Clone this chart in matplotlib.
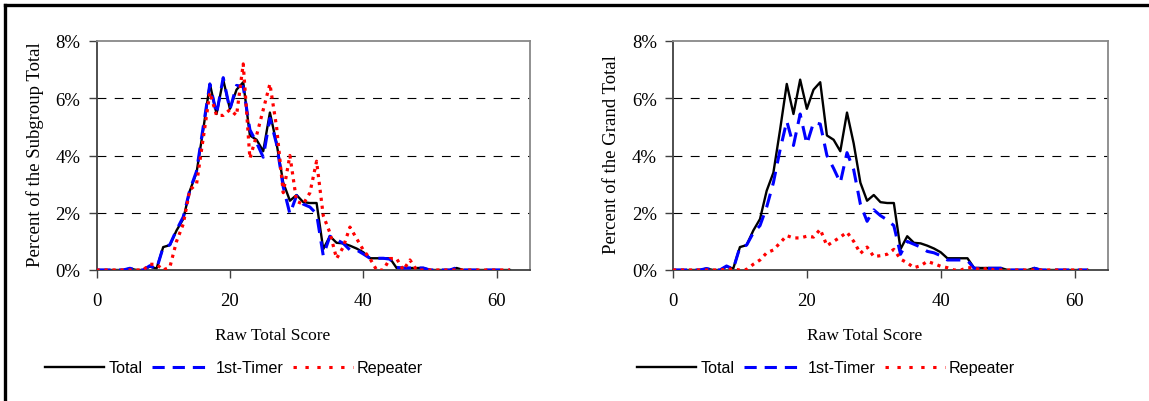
import matplotlib
matplotlib.use("Agg")
import matplotlib.pyplot as plt
from matplotlib.lines import Line2D
from matplotlib.ticker import FuncFormatter
import numpy as np

# Raw total score 0..62
scores = np.arange(63)

# Percent of all examinees at each raw score
total = (
    [0, 0, 0, 0, 0, 0.05, 0, 0, 0.12, 0.05]
    + [0.8, 0.87, 1.38, 1.78, 2.77, 3.4, 4.9, 6.5, 5.45, 6.65]
    + [5.63, 6.3, 6.56, 4.7, 4.55, 4.15, 5.5, 4.42, 3.05, 2.42]
    + [2.62, 2.37, 2.34, 2.34, 0.73, 1.18, 0.95, 0.93, 0.85, 0.75]
    + [0.62, 0.41, 0.41, 0.41, 0.41, 0.07, 0.07, 0.07, 0.07, 0.07]
    + [0, 0, 0, 0, 0.07, 0, 0, 0, 0, 0]
    + [0, 0, 0]
)

# Percent of each subgroup's own total
first_sub = (
    [0, 0, 0, 0, 0, 0.06, 0, 0, 0.15, 0.03]
    + [0.8, 0.88, 1.4, 1.85, 2.8, 3.45, 5.0, 6.5, 5.45, 6.72]
    + [5.6, 6.45, 6.4, 4.9, 4.45, 3.94, 5.3, 4.4, 2.9, 1.96]
    + [2.6, 2.3, 2.2, 1.96, 0.5, 1.18, 1.06, 0.93, 0.7, 0.7]
    + [0.56, 0.41, 0.41, 0.41, 0.38, 0.09, 0.07, 0.07, 0.07, 0.07]
    + [0, 0, 0, 0, 0.08, 0, 0, 0, 0, 0]
    + [0, 0, 0]
)
repeat_sub = (
    [0, 0, 0, 0, 0, 0, 0, 0, 0.2, 0.2]
    + [0, 0.1, 1.0, 1.6, 2.8, 3.0, 4.6, 6.2, 5.4, 5.4]
    + [5.6, 5.4, 7.2, 3.9, 4.7, 5.6, 6.5, 5.0, 2.7, 4.0]
    + [2.4, 2.3, 2.7, 3.8, 1.9, 1.3, 0.4, 0.8, 1.5, 1.1]
    + [0.7, 0.4, 0, 0, 0.4, 0.4, 0, 0.35, 0, 0]
    + [0, 0, 0, 0, 0, 0, 0, 0, 0, 0]
    + [0, 0, 0]
)

# Percent of the grand total
first_grand = (
    [0, 0, 0, 0, 0, 0.05, 0, 0, 0.14, 0.03]
    + [0.8, 0.87, 1.3, 1.55, 2.2, 3.05, 4.2, 5.2, 4.35, 5.45]
    + [4.4, 5.15, 5.1, 4.0, 3.55, 3.05, 4.1, 3.5, 2.3, 1.7]
    + [2.1, 1.9, 1.75, 1.55, 0.55, 1.0, 0.9, 0.8, 0.65, 0.6]
    + [0.5, 0.35, 0.35, 0.35, 0.33, 0.06, 0.06, 0.06, 0.06, 0.06]
    + [0, 0, 0, 0, 0.06, 0, 0, 0, 0, 0]
    + [0, 0, 0]
)
repeat_grand = (
    [0, 0, 0, 0, 0, 0, 0, 0, 0.03, 0.03]
    + [0, 0.02, 0.2, 0.35, 0.6, 0.7, 0.95, 1.2, 1.12, 1.12]
    + [1.18, 1.15, 1.42, 0.85, 1.0, 1.15, 1.32, 1.0, 0.58, 0.8]
    + [0.47, 0.5, 0.55, 0.72, 0.38, 0.25, 0.08, 0.15, 0.3, 0.22]
    + [0.13, 0.08, 0, 0, 0.08, 0.08, 0, 0.07, 0, 0]
    + [0, 0, 0, 0, 0, 0, 0, 0, 0, 0]
    + [0, 0, 0]
)

series_labels = ["Total", "1st-Timer", "Repeater"]
x_ticks = [0, 20, 40, 60]
y_ticks = [0, 2, 4, 6, 8]

SERIF = "Liberation Serif"
SANS = "Liberation Sans"
plt.rcParams["font.family"] = SERIF

W, H = 1149, 402
fig = plt.figure(figsize=(W / 100, H / 100), dpi=100)


def fx(px):
    return px / W


def fy(py):
    return 1 - py / H


BLUE = "#0000FF"
RED = "#FF0000"
DASH = (0, (4.6, 2.8))
DOT = (0, (1.0, 1.5))


def panel(left_px, right_px, first, repeat, ylabel, ylabel_x, xlabel_x, legend_x):
    ax = fig.add_axes([fx(left_px), fy(271), fx(right_px - left_px), (271 - 42) / H])
    for y in y_ticks[1:-1]:
        ax.axhline(y, color="black", lw=0.8, linestyle=(0, (8, 7.5)), zorder=0.5)
    ax.plot(scores, total, color="black", lw=1.7, zorder=2)
    ax.plot(scores, first, color=BLUE, lw=2.2, linestyle=DASH, zorder=3)
    ax.plot(scores, repeat, color=RED, lw=2.3, linestyle=DOT, zorder=4)
    ax.set_xlim(0, 65)
    ax.set_ylim(0, 8)
    ax.set_xticks(x_ticks)
    ax.set_yticks(y_ticks)
    ax.yaxis.set_major_formatter(FuncFormatter(lambda v, p: f"{v:.0f}%"))
    ax.tick_params(axis="both", direction="out", length=5.5, width=1.0,
                   color="#404040", labelsize=13.5)
    ax.tick_params(axis="y", pad=6.0)
    ax.tick_params(axis="x", pad=10.5)
    for side in ("left", "bottom"):
        ax.spines[side].set_color("#404040")
        ax.spines[side].set_linewidth(1.3)
    for side in ("top", "right"):
        ax.spines[side].set_color("#888888")
        ax.spines[side].set_linewidth(1.3)
    fig.text(fx(ylabel_x), fy(155), ylabel, rotation=90, ha="center", va="center",
             fontsize=13.5, family=SERIF)
    fig.text(fx(xlabel_x), fy(336), "Raw Total Score", ha="center", va="center",
             fontsize=12.5, family=SERIF)
    handles = [
        Line2D([], [], color="black", lw=1.7),
        Line2D([], [], color=BLUE, lw=2.2, linestyle=(0, (4.0, 2.6))),
        Line2D([], [], color=RED, lw=2.2, linestyle=(0, (1.1, 2.8))),
    ]
    fig.legend(handles, series_labels, loc="center", bbox_to_anchor=(fx(legend_x), fy(369)),
               ncol=3, frameon=False, handlelength=3.7, handletextpad=0.25,
               columnspacing=0.6, prop={"family": SANS, "size": 11.6})
    return ax


panel(96.5, 530, first_sub, repeat_sub, "Percent of the Subgroup Total", 35, 273, 234)
panel(673, 1108, first_grand, repeat_grand, "Percent of the Grand Total", 612, 865, 826)

# Outer frame along the top and left edges
fig.add_artist(Line2D([fx(5), fx(W + 5)], [fy(6), fy(6)], color="black", lw=2.4,
                      transform=fig.transFigure))
fig.add_artist(Line2D([fx(5), fx(5)], [fy(6), fy(H + 5)], color="black", lw=2.4,
                      transform=fig.transFigure))

fig.savefig("out.png", dpi=100)
